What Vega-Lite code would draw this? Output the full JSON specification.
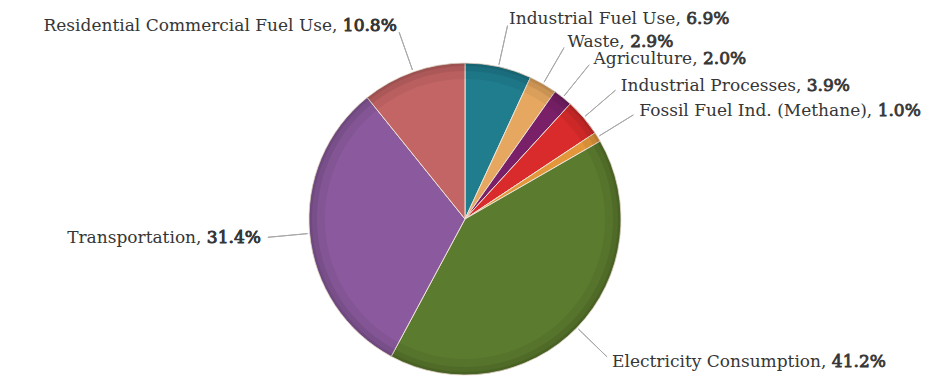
{
  "$schema": "https://vega.github.io/schema/vega-lite/v6.json",
  "width": 930,
  "height": 324,
  "autosize": {"type": "none"},
  "padding": {"left": 0, "top": 57, "right": 13, "bottom": 0},
  "background": "white",
  "config": {"view": {"stroke": null}},
  "data": {
    "values": [
      {"rank": 1, "category": "Industrial Fuel Use", "share": 6.9, "label": "Industrial Fuel Use, 6.9%", "namePart": "Industrial Fuel Use,", "pctPart": "6.9%"},
      {"rank": 2, "category": "Waste", "share": 2.9, "label": "Waste, 2.9%", "namePart": "Waste,", "pctPart": "2.9%"},
      {"rank": 3, "category": "Agriculture", "share": 2.0, "label": "Agriculture, 2.0%", "namePart": "Agriculture,", "pctPart": "2.0%"},
      {"rank": 4, "category": "Industrial Processes", "share": 3.9, "label": "Industrial Processes, 3.9%", "namePart": "Industrial Processes,", "pctPart": "3.9%"},
      {"rank": 5, "category": "Fossil Fuel Ind. (Methane)", "share": 1.0, "label": "Fossil Fuel Ind. (Methane), 1.0%", "namePart": "Fossil Fuel Ind. (Methane),", "pctPart": "1.0%"},
      {"rank": 6, "category": "Electricity Consumption", "share": 41.2, "label": "Electricity Consumption, 41.2%", "namePart": "Electricity Consumption,", "pctPart": "41.2%"},
      {"rank": 7, "category": "Transportation", "share": 31.4, "label": "Transportation, 31.4%", "namePart": "Transportation,", "pctPart": "31.4%"},
      {"rank": 8, "category": "Residential Commercial Fuel Use", "share": 10.8, "label": "Residential Commercial Fuel Use, 10.8%", "namePart": "Residential Commercial Fuel Use,", "pctPart": "10.8%"}
    ]
  },
  "encoding": {
    "theta": {"field": "share", "type": "quantitative", "stack": true},
    "order": {"field": "rank", "type": "quantitative"},
    "detail": {"field": "category", "type": "nominal"}
  },
  "layer": [
    {
      "mark": {"type": "arc", "outerRadius": 156, "stroke": "#eee2d4", "strokeWidth": 1},
      "encoding": {
        "color": {
          "field": "category",
          "type": "nominal",
          "legend": null,
          "scale": {
            "domain": ["Industrial Fuel Use", "Waste", "Agriculture", "Industrial Processes", "Fossil Fuel Ind. (Methane)", "Electricity Consumption", "Transportation", "Residential Commercial Fuel Use"],
            "range": ["#1f7d8e", "#e6a860", "#7a2068", "#d92b2b", "#e3973a", "#5b7b2e", "#8b5a9e", "#c46565"]
          }
        }
      }
    },
    {
      "mark": {"type": "arc", "outerRadius": 156, "innerRadius": 140, "fill": "#000000", "fillOpacity": 0.05, "strokeWidth": 0}
    },
    {
      "mark": {"type": "arc", "outerRadius": 156, "innerRadius": 148, "fill": "#000000", "fillOpacity": 0.07, "strokeWidth": 0}
    },
    {
      "mark": {"type": "arc", "outerRadius": 156, "innerRadius": 153, "fill": "#000000", "fillOpacity": 0.08, "strokeWidth": 0}
    },
    {
      "mark": {"type": "arc", "outerRadius": 198, "innerRadius": 158, "padAngle": 3.14, "fill": "transparent", "stroke": "#a8a8a8", "strokeWidth": 1}
    },
    {
      "mark": {"type": "text", "radius": 205, "align": "left", "baseline": "middle", "font": "DejaVu Serif", "fontSize": 17, "fill": "#363636", "stroke": "#363636", "strokeWidth": 0.8},
      "encoding": {
        "text": {"field": "label", "type": "nominal"},
        "opacity": {"condition": {"test": "indexof(['Transportation','Residential Commercial Fuel Use'], datum.category) >= 0", "value": 0}, "value": 1}
      }
    },
    {
      "mark": {"type": "text", "radius": 205, "align": "left", "baseline": "middle", "font": "DejaVu Serif", "fontSize": 17, "fill": "#ffffff", "stroke": "#ffffff", "strokeWidth": 3},
      "encoding": {
        "text": {"field": "namePart", "type": "nominal"},
        "opacity": {"condition": {"test": "indexof(['Transportation','Residential Commercial Fuel Use'], datum.category) >= 0", "value": 0}, "value": 1}
      }
    },
    {
      "mark": {"type": "text", "radius": 205, "align": "left", "baseline": "middle", "font": "DejaVu Serif", "fontSize": 17, "fill": "#363636"},
      "encoding": {
        "text": {"field": "namePart", "type": "nominal"},
        "opacity": {"condition": {"test": "indexof(['Transportation','Residential Commercial Fuel Use'], datum.category) >= 0", "value": 0}, "value": 1}
      }
    },
    {
      "mark": {"type": "text", "radius": 205, "align": "right", "baseline": "middle", "font": "DejaVu Serif", "fontSize": 17, "fill": "#363636"},
      "encoding": {
        "text": {"field": "label", "type": "nominal"},
        "opacity": {"condition": {"test": "indexof(['Transportation','Residential Commercial Fuel Use'], datum.category) >= 0", "value": 1}, "value": 0}
      }
    },
    {
      "mark": {"type": "text", "radius": 205, "align": "right", "baseline": "middle", "font": "DejaVu Serif", "fontSize": 17, "fill": "#363636", "stroke": "#363636", "strokeWidth": 0.8},
      "encoding": {
        "text": {"field": "pctPart", "type": "nominal"},
        "opacity": {"condition": {"test": "indexof(['Transportation','Residential Commercial Fuel Use'], datum.category) >= 0", "value": 1}, "value": 0}
      }
    }
  ]
}
